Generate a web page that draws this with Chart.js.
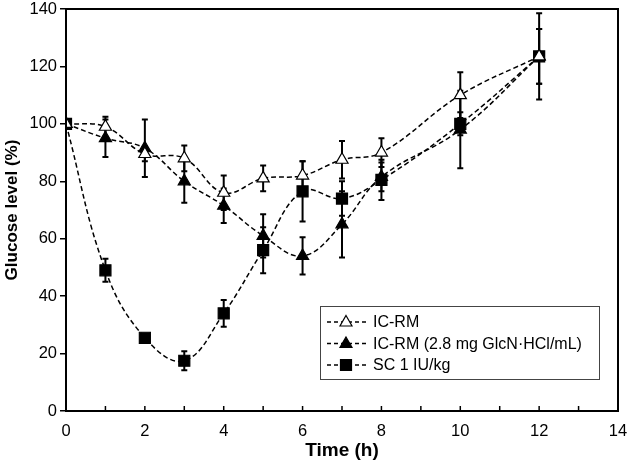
<!DOCTYPE html>
<html>
<head>
<meta charset="utf-8">
<script src="https://cdn.jsdelivr.net/npm/chart.js@4.4.1/dist/chart.umd.min.js"></script>
<style>
  html, body { margin: 0; padding: 0; background: #fff; }
  #wrap { width: 627px; height: 466px; }
</style>
</head>
<body>
<div id="wrap"><canvas id="grafico"></canvas></div>
<script>
// Dados
const tempos = [0, 1, 2, 3, 4, 5, 6, 7, 8, 10, 12];
const icrm = [100, 99, 89.5, 88, 76, 81, 82, 87.5, 90, 110, 123.5];
const icrmErro = [0, 3.5, 2.5, 4.5, 6, 4.5, 5, 6.5, 5, 8, 9.5];
const icrmGlc = [100, 95, 91.5, 80, 71.5, 61, 54, 65, 81.5, 98, 123.5];
const icrmGlcErro = [0, 6.5, 10, 7.5, 6, 7.5, 6.5, 11.5, 5, 13.5, 15];
const sc = [100, 49, 25.5, 17.5, 34, 56, 76.5, 74, 80.5, 100, 123.5];
const scErro = [0, 4, 1, 3.3, 4.7, 8, 10.5, 6, 7, 4, 9.5];
const rotulos = ['IC-RM', 'IC-RM (2.8 mg GlcN\u00b7HCl/mL)', 'SC 1 IU/kg'];

const FONTE = '"Liberation Sans", Arial, sans-serif';

function pontos(valores) {
    return tempos.map((t, i) => ({ x: t, y: valores[i] }));
}

function desenhaMarcador(ctx, estilo, x, y, vazio) {
    ctx.save();
    ctx.fillStyle = vazio ? '#fff' : '#000';
    ctx.strokeStyle = '#000';
    ctx.lineWidth = 1.2;
    ctx.setLineDash([]);
    ctx.beginPath();
    if (estilo === 'rect') {
        ctx.rect(x - 5.5, y - 5.5, 11, 11);
    } else {
        ctx.moveTo(x, y - 6.5);
        ctx.lineTo(x + 6, y + 4);
        ctx.lineTo(x - 6, y + 4);
        ctx.closePath();
    }
    ctx.fill();
    ctx.stroke();
    ctx.restore();
}

// Barras de erro desenhadas antes dos marcadores
const barrasErro = {
    id: 'barrasErro',
    beforeDatasetsDraw(chart) {
        const ctx = chart.ctx;
        const yScale = chart.scales.y;
        ctx.save();
        ctx.strokeStyle = '#000';
        ctx.lineWidth = 2;
        chart.data.datasets.forEach((ds, di) => {
            const meta = chart.getDatasetMeta(di);
            meta.data.forEach((pt, i) => {
                const err = ds.erros[i];
                if (!err) return;
                const v = ds.data[i].y;
                const yTop = yScale.getPixelForValue(v + err);
                const yBot = yScale.getPixelForValue(v - err);
                ctx.beginPath();
                ctx.moveTo(pt.x, yTop); ctx.lineTo(pt.x, yBot);
                ctx.moveTo(pt.x - 3, yTop); ctx.lineTo(pt.x + 3, yTop);
                ctx.moveTo(pt.x - 3, yBot); ctx.lineTo(pt.x + 3, yBot);
                ctx.stroke();
            });
        });
        ctx.restore();
    }
};

// Moldura, marcas internas do eixo x e legenda
const moldura = {
    id: 'moldura',
    afterDraw(chart) {
        const ctx = chart.ctx;
        const a = chart.chartArea;
        const xScale = chart.scales.x;
        ctx.save();
        ctx.strokeStyle = '#000';
        ctx.lineWidth = 2;
        ctx.strokeRect(a.left, a.top, a.right - a.left, a.bottom - a.top);

        ctx.lineWidth = 1.5;
        for (let t = 1; t < 14; t++) {
            const px = xScale.getPixelForValue(t);
            ctx.beginPath();
            ctx.moveTo(px, a.bottom);
            ctx.lineTo(px, a.bottom - 5);
            ctx.stroke();
        }

        // legenda
        const lx = 320, ly = 306, lw = 279, lh = 73;
        ctx.fillStyle = '#fff';
        ctx.fillRect(lx, ly, lw, lh);
        ctx.strokeStyle = '#444';
        ctx.lineWidth = 1;
        ctx.strokeRect(lx + 0.5, ly + 0.5, lw, lh);
        ctx.font = '16px ' + FONTE;
        ctx.textBaseline = 'middle';
        chart.data.datasets.forEach((ds, i) => {
            const y = ly + 16 + i * 21.5;
            ctx.strokeStyle = '#000';
            ctx.lineWidth = 1.5;
            ctx.setLineDash([4, 3]);
            ctx.beginPath();
            ctx.moveTo(lx + 7, y);
            ctx.lineTo(lx + 47, y);
            ctx.stroke();
            ctx.setLineDash([]);
            desenhaMarcador(ctx, ds.pointStyle, lx + 26, y, ds.pointBackgroundColor === '#fff');
            ctx.fillStyle = '#000';
            ctx.fillText(ds.label, lx + 53, y + 1);
        });
        ctx.restore();
    }
};

function serie(rotulo, valores, erros, estilo, vazio) {
    return {
        label: rotulo,
        data: pontos(valores),
        erros: erros,
        borderColor: '#000',
        borderWidth: 1.5,
        borderDash: [5, 3],
        tension: 0.4,
        fill: false,
        pointStyle: estilo,
        pointRadius: estilo === 'rect' ? 7.8 : 7,
        pointBackgroundColor: vazio ? '#fff' : '#000',
        pointBorderColor: '#000',
        pointBorderWidth: 1.2
    };
}

new Chart(document.getElementById('grafico'), {
    type: 'line',
    data: {
        datasets: [
            serie(rotulos[0], icrm, icrmErro, 'triangle', true),
            serie(rotulos[1], icrmGlc, icrmGlcErro, 'triangle', false),
            serie(rotulos[2], sc, scErro, 'rect', false)
        ]
    },
    options: {
        responsive: true,
        maintainAspectRatio: false,
        animation: false,
        layout: { padding: { top: 5, right: 9, left: 0, bottom: 0 } },
        plugins: {
            legend: { display: false },
            tooltip: { enabled: false }
        },
        scales: {
            x: {
                type: 'linear',
                min: 0,
                max: 14,
                afterFit: s => { s.height = 55; s.paddingLeft = 0; s.paddingRight = 0; },
                grid: { display: false },
                border: { display: true, color: '#000', width: 2 },
                ticks: {
                    stepSize: 1,
                    autoSkip: false,
                    maxRotation: 0,
                    color: '#000',
                    padding: 3,
                    font: { family: FONTE, size: 16.5 },
                    callback: v => (v % 2 === 0 ? v : '')
                },
                title: {
                    display: true,
                    text: 'Time (h)',
                    color: '#000',
                    padding: { top: 1 },
                    font: { family: FONTE, size: 19, weight: 'bold' }
                }
            },
            y: {
                min: 0,
                max: 140,
                afterFit: s => { s.width = 66; s.paddingTop = 0; s.paddingBottom = 0; },
                grid: { drawOnChartArea: false, color: '#000', tickLength: 6, lineWidth: 1.5 },
                border: { display: true, color: '#000', width: 2 },
                ticks: {
                    stepSize: 20,
                    color: '#000',
                    padding: 3,
                    font: { family: FONTE, size: 16.5 }
                },
                title: {
                    display: true,
                    text: 'Glucose level (%)',
                    color: '#000',
                    padding: { top: 2, bottom: 2 },
                    font: { family: FONTE, size: 17, weight: 'bold' }
                }
            }
        }
    },
    plugins: [barrasErro, moldura]
});
</script>
</body>
</html>
